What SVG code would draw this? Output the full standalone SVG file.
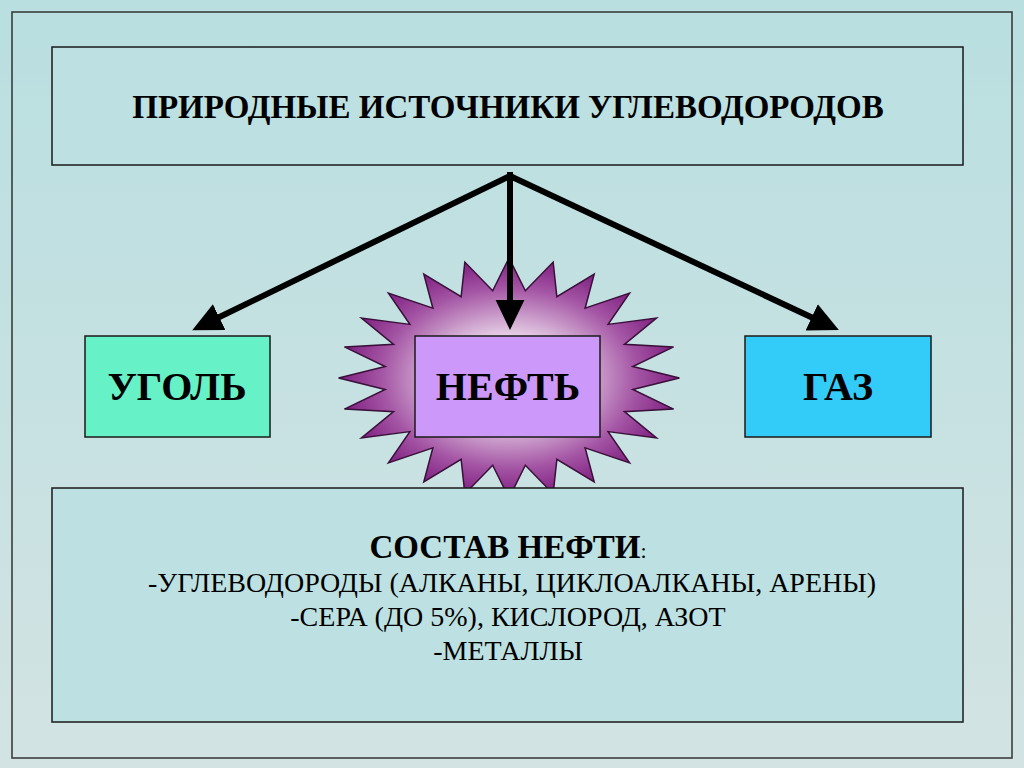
<svg xmlns="http://www.w3.org/2000/svg" width="1024" height="768" viewBox="0 0 1024 768">
<defs>
<linearGradient id="bg" x1="0" y1="0" x2="0" y2="1"><stop offset="0" stop-color="#b9dfe0"/><stop offset="1" stop-color="#d3e3e3"/></linearGradient>
<radialGradient id="sg" cx="0.5" cy="0.5" r="0.5"><stop offset="0.2" stop-color="#ffffff"/><stop offset="0.75" stop-color="#a455a4"/><stop offset="1" stop-color="#7e1f80"/></radialGradient>
<marker id="ah" markerWidth="6" markerHeight="6" refX="3" refY="3" orient="auto" markerUnits="strokeWidth" viewBox="0 0 6 6"><path d="M0,0.6 L5,3 L0,5.4 Z" fill="#000"/></marker>
</defs>
<style>
.box{stroke:#1a1a1a;stroke-width:1.5}
.t{font-family:"Liberation Serif",serif;fill:#000}
.b{font-weight:bold}
.c{stroke:#000;stroke-width:6;fill:none;marker-end:url(#ah)}
</style>
<rect x="0" y="0" width="1024" height="768" fill="url(#bg)"/>
<rect x="12" y="12" width="1000" height="746" fill="none" stroke="#333" stroke-width="1.5"/>
<g id="title"><rect class="box" x="52" y="47" width="911" height="118" fill="#bde0e2"/>
<text class="t b" x="508" y="118" font-size="33" text-anchor="middle">ПРИРОДНЫЕ ИСТОЧНИКИ УГЛЕВОДОРОДОВ</text></g>
<g id="star"><polygon transform="translate(509,378) scale(1.42,1)" fill="url(#sg)" stroke="#3a103a" stroke-width="1.5" vector-effect="non-scaling-stroke" points="120,0 87.2,11.5 115.9,31.1 81.3,33.7 103.9,60 69.8,53.6 84.9,84.9 53.6,69.8 60,103.9 33.7,81.3 31.1,115.9 11.5,87.2 0,120 -11.5,87.2 -31.1,115.9 -33.7,81.3 -60,103.9 -53.6,69.8 -84.9,84.9 -69.8,53.6 -103.9,60 -81.3,33.7 -115.9,31.1 -87.2,11.5 -120,0 -87.2,-11.5 -115.9,-31.1 -81.3,-33.7 -103.9,-60 -69.8,-53.6 -84.9,-84.9 -53.6,-69.8 -60,-103.9 -33.7,-81.3 -31.1,-115.9 -11.5,-87.2 0,-120 11.5,-87.2 31.1,-115.9 33.7,-81.3 60,-103.9 53.6,-69.8 84.9,-84.9 69.8,-53.6 103.9,-60 81.3,-33.7 115.9,-31.1 87.2,-11.5"/></g>
<g id="coal"><rect class="box" x="85" y="336" width="185" height="101" fill="#66f2c6"/>
<text class="t b" x="177" y="400" font-size="40" text-anchor="middle">УГОЛЬ</text></g>
<g id="oil"><rect class="box" x="415" y="336" width="185" height="101" fill="#cc99fa"/>
<text class="t b" x="508" y="400" font-size="40" text-anchor="middle">НЕФТЬ</text></g>
<g id="gas"><rect class="box" x="745" y="336" width="186" height="101" fill="#33ccf8"/>
<text class="t b" x="838" y="400" font-size="40" text-anchor="middle">ГАЗ</text></g>
<g id="connectors">
<line class="c" x1="510" y1="176" x2="203" y2="325"/>
<line class="c" x1="510" y1="172" x2="510" y2="318"/>
<line class="c" x1="510" y1="176" x2="828" y2="325"/>
</g>
<g id="composition"><rect class="box" x="52" y="488" width="911" height="234" fill="#bde0e2"/>
<text class="t" x="508" y="558" font-size="33" text-anchor="middle"><tspan font-weight="bold">СОСТАВ НЕФТИ</tspan><tspan font-size="22">:</tspan></text>
<text class="t" x="512" y="592" font-size="28" text-anchor="middle">-УГЛЕВОДОРОДЫ (АЛКАНЫ, ЦИКЛОАЛКАНЫ, АРЕНЫ)</text>
<text class="t" x="508" y="626" font-size="28" text-anchor="middle">-СЕРА (ДО 5%), КИСЛОРОД, АЗОТ</text>
<text class="t" x="508" y="660" font-size="28" text-anchor="middle">-МЕТАЛЛЫ</text></g>
</svg>
